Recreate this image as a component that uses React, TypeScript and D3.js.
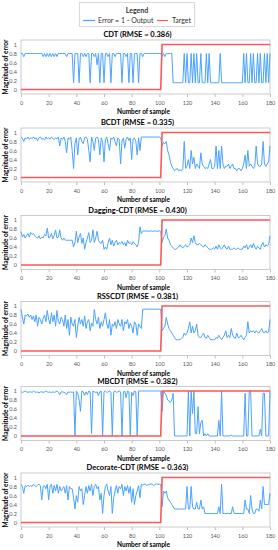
import React, {Component} from 'react';
import * as d3 from 'd3';

// panel titles, top to bottom
const titles = [
    "CDT (RMSE = 0.386)",
    "BCDT (RMSE = 0.335)",
    "Dagging-CDT (RMSE = 0.430)",
    "RSSCDT (RMSE = 0.381)",
    "MBCDT (RMSE = 0.382)",
    "Decorate-CDT (RMSE = 0.363)"
];

const xTicks = [0, 20, 40, 60, 80, 100, 120, 140, 160, 180];
const yTicks = [0, 0.2, 0.4, 0.6, 0.8, 1];

// target (same for every panel)
const target = [
    0,0,0,0,0,0,0,0,0,0, 0,0,0,0,0,0,0,0,0,0,
    0,0,0,0,0,0,0,0,0,0, 0,0,0,0,0,0,0,0,0,0,
    0,0,0,0,0,0,0,0,0,0, 0,0,0,0,0,0,0,0,0,0,
    0,0,0,0,0,0,0,0,0,0, 0,0,0,0,0,0,0,0,0,0,
    0,0,0,0,0,0,0,0,0,0, 0,0,0,0,0,0,0,0,0,0,
    0,0,1,1,1,1,1,1,1,1, 1,1,1,1,1,1,1,1,1,1,
    1,1,1,1,1,1,1,1,1,1, 1,1,1,1,1,1,1,1,1,1,
    1,1,1,1,1,1,1,1,1,1, 1,1,1,1,1,1,1,1,1,1,
    1,1,1,1,1,1,1,1,1,1, 1,1,1,1,1,1,1,1,1,1,
    1
];

// error = 1 - output, samples 0..180
const cdt = [
    0.8,0.8,0.73,0.8,0.8,0.8,0.8,0.8,0.8,0.8, 0.8,0.8,0.8,0.8,0.8,0.8,0.73,0.8,0.73,0.8,
    0.73,0.8,0.73,0.8,0.73,0.8,0.73,0.8,0.8,0.8, 0.8,0.8,0.8,0.73,0.8,0.8,0.8,0.8,0.15,0.8,
    0.8,0.8,0.15,0.8,0.8,0.73,0.8,0.73,0.8,0.8, 0.15,0.8,0.8,0.73,0.8,0.55,0.8,0.15,0.8,0.8,
    0.15,0.8,0.8,0.73,0.8,0.15,0.8,0.8,0.73,0.8, 0.8,0.8,0.8,0.15,0.8,0.8,0.73,0.8,0.15,0.8,
    0.8,0.15,0.8,0.8,0.8,0.15,0.8,0.8,0.73,0.8, 0.8,0.8,0.8,0.8,0.8,0.8,0.8,0.8,0.8,0.8,
    0.8,0.8,0.73,0.8,0.73,0.8,0.8,0.8,0.8,0.8, 0.15,0.15,0.15,0.15,0.15,0.15,0.15,0.15,0.8,0.15,
    0.8,0.15,0.15,0.8,0.15,0.8,0.15,0.8,0.15,0.15, 0.8,0.15,0.15,0.15,0.8,0.15,0.8,0.15,0.15,0.15,
    0.15,0.15,0.15,0.15,0.8,0.15,0.15,0.15,0.15,0.15, 0.15,0.15,0.15,0.15,0.15,0.15,0.15,0.15,0.15,0.15,
    0.15,0.8,0.15,0.8,0.15,0.15,0.8,0.15,0.8,0.15, 0.15,0.8,0.15,0.8,0.15,0.15,0.8,0.15,0.8,0.15,
    0.8
];

const bcdt = [
    0.9,0.87,0.8,0.88,0.86,0.9,0.85,0.88,0.87,0.9, 0.86,0.88,0.82,0.88,0.9,0.85,0.87,0.83,0.9,0.86,
    0.88,0.85,0.9,0.87,0.84,0.88,0.86,0.9,0.7,0.88, 0.85,0.9,0.8,0.55,0.88,0.85,0.9,0.6,0.2,0.75,
    0.88,0.5,0.85,0.9,0.8,0.75,0.88,0.9,0.85,0.6, 0.35,0.9,0.8,0.6,0.88,0.9,0.85,0.5,0.88,0.8,
    0.35,0.85,0.9,0.75,0.6,0.88,0.85,0.9,0.8,0.7, 0.88,0.85,0.3,0.8,0.88,0.65,0.85,0.9,0.82,0.88,
    0.4,0.85,0.88,0.8,0.5,0.88,0.6,0.9,0.9,0.9, 0.9,0.9,0.9,0.9,0.9,0.9,0.9,0.9,0.9,0.9,
    0.9,0.88,0.7,0.78,0.75,0.8,0.6,0.5,0.35,0.25, 0.2,0.15,0.18,0.2,0.15,0.17,0.15,0.2,0.8,0.2,
    0.25,0.4,0.2,0.6,0.3,0.45,0.2,0.3,0.25,0.2, 0.55,0.3,0.25,0.2,0.22,0.2,0.3,0.4,0.2,0.2,
    0.25,0.7,0.2,0.6,0.2,0.7,0.3,0.2,0.25,0.25, 0.3,0.2,0.25,0.3,0.2,0.2,0.15,0.2,0.2,0.15,
    0.2,0.3,0.5,0.2,0.6,0.25,0.3,0.25,0.2,0.25, 0.7,0.3,0.25,0.25,0.3,0.8,0.3,0.25,0.3,0.35,
    0.7
];

const dagging = [
    0.74,0.62,0.68,0.6,0.65,0.7,0.62,0.72,0.68,0.7, 0.65,0.62,0.6,0.65,0.58,0.62,0.6,0.68,0.65,0.82,
    0.6,0.62,0.7,0.58,0.65,0.78,0.6,0.62,0.78,0.6, 0.55,0.6,0.55,0.55,0.55,0.55,0.55,0.55,0.4,0.5,
    0.75,0.5,0.62,0.7,0.48,0.6,0.35,0.5,0.6,0.72, 0.5,0.55,0.78,0.5,0.6,0.75,0.55,0.5,0.48,0.55,
    0.35,0.4,0.35,0.5,0.6,0.45,0.55,0.42,0.5,0.55, 0.45,0.5,0.48,0.52,0.45,0.5,0.42,0.55,0.48,0.5,
    0.45,0.52,0.48,0.45,0.4,0.5,0.85,0.7,0.75,0.76, 0.75,0.76,0.75,0.75,0.76,0.75,0.75,0.76,0.75,0.75,
    0.76,0.75,0.5,0.62,0.65,0.8,0.6,0.55,0.45,0.42, 0.38,0.35,0.35,0.38,0.4,0.45,0.4,0.38,0.42,0.45,
    0.4,0.42,0.45,0.6,0.5,0.65,0.5,0.45,0.45,0.48, 0.45,0.42,0.4,0.45,0.42,0.38,0.35,0.35,0.35,0.38,
    0.35,0.42,0.35,0.45,0.38,0.35,0.4,0.45,0.38,0.35, 0.42,0.35,0.35,0.35,0.38,0.35,0.35,0.38,0.35,0.35,
    0.35,0.42,0.38,0.45,0.35,0.4,0.45,0.38,0.48,0.4, 0.35,0.42,0.38,0.35,0.45,0.5,0.4,0.45,0.42,0.45,
    0.65
];

const rsscdt = [
    0.92,0.75,0.6,0.8,0.78,0.82,0.75,0.8,0.7,0.78, 0.65,0.8,0.55,0.75,0.7,0.6,0.72,0.8,0.65,0.9,
    0.7,0.6,0.85,0.65,0.8,0.55,0.9,0.65,0.6,0.75, 0.7,0.55,0.8,0.5,0.7,0.35,0.75,0.6,0.55,0.7,
    0.3,0.55,0.75,0.6,0.7,0.55,0.78,0.5,0.65,0.7, 0.45,0.62,0.55,0.92,0.7,0.6,0.75,0.5,0.65,0.55,
    0.7,0.85,0.6,0.5,0.7,0.35,0.6,0.55,0.65,0.5, 0.7,0.6,0.55,0.7,0.45,0.65,0.6,0.7,0.5,0.62,
    0.55,0.4,0.65,0.6,0.35,0.6,0.55,0.5,0.93,0.93, 0.93,0.93,0.93,0.93,0.93,0.93,0.93,0.93,0.93,0.93,
    0.93,0.93,0.45,0.5,0.55,0.75,0.6,0.5,0.45,0.4, 0.35,0.3,0.25,0.25,0.25,0.25,0.28,0.3,0.4,0.35,
    0.4,0.5,0.65,0.4,0.55,0.4,0.45,0.6,0.35,0.3, 0.3,0.35,0.4,0.3,0.28,0.35,0.3,0.25,0.25,0.25,
    0.25,0.3,0.28,0.35,0.3,0.25,0.3,0.35,0.45,0.3, 0.35,0.3,0.5,0.35,0.3,0.28,0.4,0.3,0.3,0.35,
    0.3,0.25,0.3,0.35,0.65,0.4,0.45,0.42,0.45,0.4, 0.45,0.42,0.4,0.45,0.5,0.42,0.4,0.45,0.4,0.42,
    0.7
];

const mbcdt = [
    0.98,0.97,0.98,1,0.98,0.97,0.98,0.98,0.97,1, 0.98,0.97,0.98,0.96,0.98,0.98,0.97,0.98,1,0.98,
    0.97,0.98,0.96,0.98,0.97,0.98,1,0.97,0.92,0.98, 0.98,0.97,0.96,0.92,0.98,0.97,0.98,0.97,0.98,0,
    1,0.95,0.8,0.55,1,0.98,0.9,0.98,0.92,1, 0.98,0.05,1,0.98,0.97,0.98,0.9,0.98,1,0,
    0.98,1,0.97,0.98,1,0.98,0,0.98,1,0.97, 0.98,1,0.98,0,0.98,1,0.85,1,0.98,0,
    0.97,0.9,1,0.98,0,1,1,1,1,1, 1,1,1,1,1,1,1,1,1,1,
    1,1,0.55,1,0.95,0.9,0.8,0.78,0.75,0.8, 0.95,0,0,0,0,0,0,0,0,0,
    0,1,0,1,0.5,1,0.05,0.05,0.65,0.05, 0.3,0.35,0,0.05,0,0.05,0,0,0,0,
    0,0,0,0.35,0,1,0,0,0,0, 0,0,0.02,0,0,0,0,0,0,0,
    0,0,0.95,0,0,1,1,0,0,0, 0,0,0,0.15,0,0.95,0.95,0,0,0,
    1
];

const decorate = [
    0.85,0.8,0.65,0.82,0.8,0.83,0.8,0.82,0.8,0.85, 0.82,0.8,0.83,0.85,0.82,0.5,0.8,0.82,0.75,0.85,
    0.5,0.8,0.85,0.65,0.82,0.7,0.85,0.65,0.8,0.7, 0.75,0.8,0.65,0.82,0.5,0.8,0.75,0.75,0.55,0.3,
    0.6,0.45,0.8,0.7,0.75,0.4,0.6,0.8,0.65,0.82, 0.7,0.85,0.6,0.8,0.85,0.75,0.8,0.5,0.65,0.2,
    0.6,0.8,0.85,0.7,0.6,0.8,0.2,0.55,0.7,0.82, 0.65,0.8,0.75,0.85,0.6,0.8,0.7,0.82,0.65,0.8,
    0.45,0.75,0.4,0.6,0.7,0.82,0.55,0.85,0.83,0.85, 0.85,0.82,0.85,0.84,0.86,0.85,0.82,0.85,0.86,0.85,
    0.85,0.85,0.35,0.7,0.65,0.7,0.55,0.5,0.45,0.4, 0.35,0.3,0.3,0.3,0.3,0.3,0.3,0.3,0.3,0.3,
    0.8,0.3,0.3,0.8,0.35,0.3,0.3,0.45,0.3,0.3, 0.5,0.3,0.35,0.2,0.2,0.2,0.2,0.2,0.2,0.2,
    0.2,0.2,0.2,0.35,0.2,0.85,0.2,0.2,0.2,0.2, 0.2,0.2,0.2,0.35,0.2,0.2,0.2,0.2,0.2,0.2,
    0.2,0.2,0.5,0.3,0.3,0.2,0.6,0.3,0.2,0.2, 0.3,0.3,0.25,0.5,0.3,0.8,0.4,0.4,0.4,0.4,
    0.65
];

const errors = [cdt, bcdt, dagging, rsscdt, mbcdt, decorate];

const FONT = "Lato, 'Open Sans', sans-serif";
const BLUE = "#4aa3ff";
const RED = "#ff5656";

class App extends Component {
    node: SVGSVGElement | null = null;

    componentDidMount() {
        this.drawChart();
    }

    drawChart() {
        const w = 278;
        const h = 550;
        const left = 21;
        const right = 270;
        const ph = 54;
        const tops = [40, 128, 215.5, 301.5, 386.5, 473];

        const svg = d3.select(this.node)
            .attr("width", w)
            .attr("height", h)
            .style("font-family", FONT);
        svg.selectAll("*").remove();

        // legend
        const lg = svg.append("g");
        lg.append("rect")
            .attr("x", 79.5).attr("y", 2.5)
            .attr("width", 115).attr("height", 24)
            .attr("fill", "#fff").attr("stroke", "#d9d9d9");
        lg.append("text")
            .attr("x", 137).attr("y", 12.5)
            .attr("text-anchor", "middle")
            .attr("font-size", 7).attr("font-weight", "bold")
            .attr("fill", "#333")
            .text("Legend");
        lg.append("line")
            .attr("x1", 83).attr("x2", 95).attr("y1", 20.5).attr("y2", 20.5)
            .attr("stroke", BLUE).attr("stroke-width", 1.2);
        lg.append("text")
            .attr("x", 98).attr("y", 23)
            .attr("font-size", 7).attr("fill", "#333")
            .text("Error = 1 - Output");
        lg.append("line")
            .attr("x1", 157).attr("x2", 168).attr("y1", 20.5).attr("y2", 20.5)
            .attr("stroke", RED).attr("stroke-width", 1.2);
        lg.append("text")
            .attr("x", 172).attr("y", 23)
            .attr("font-size", 7).attr("fill", "#333")
            .text("Target");

        errors.forEach((err, k) => {
            const top = tops[k];
            const xScale = d3.scaleLinear().domain([0, 180]).range([left, right]);
            const yScale = d3.scaleLinear().domain([-0.1, 1.1]).range([top + ph, top]);
            const g = svg.append("g");

            g.append("text")
                .attr("x", (left + right) / 2 - 8)
                .attr("y", top - 3)
                .attr("text-anchor", "middle")
                .attr("font-size", 7.5).attr("font-weight", "bold")
                .attr("fill", "#000")
                .text(titles[k]);

            g.append("rect")
                .attr("x", left).attr("y", top)
                .attr("width", right - left).attr("height", ph)
                .attr("fill", "#fff").attr("stroke", "#bfbfbf").attr("stroke-width", 0.8);

            const yAxis = d3.axisLeft(yScale)
                .tickValues(yTicks)
                .tickSize(0)
                .tickPadding(4)
                .tickFormat(d3.format(""));
            g.append("g")
                .attr("transform", "translate(" + left + ",0)")
                .call(yAxis)
                .call(a => a.select(".domain").remove())
                .selectAll("text")
                .attr("font-size", 5.5).attr("fill", "#595959").attr("font-family", FONT);

            const xAxis = d3.axisBottom(xScale)
                .tickValues(xTicks)
                .tickSize(3)
                .tickPadding(4);
            g.append("g")
                .attr("transform", "translate(0," + (top + ph) + ")")
                .call(xAxis)
                .call(a => a.select(".domain").remove())
                .call(a => a.selectAll("line").attr("stroke", "#bfbfbf"))
                .selectAll("text")
                .attr("font-size", 5.5).attr("fill", "#595959").attr("font-family", FONT);

            g.append("text")
                .attr("x", (left + right) / 2 - 2)
                .attr("y", top + ph + 20)
                .attr("text-anchor", "middle")
                .attr("font-size", 6.5).attr("font-weight", "bold")
                .attr("fill", "#000")
                .text("Number of sample");

            g.append("text")
                .attr("transform", "rotate(-90)")
                .attr("x", -(top + ph / 2))
                .attr("y", 8)
                .attr("text-anchor", "middle")
                .attr("font-size", 6.5).attr("font-weight", "bold")
                .attr("fill", "#000")
                .text("Magnitude of error");

            const line = d3.line<number>()
                .x((d, i) => xScale(i))
                .y(d => yScale(d));

            g.append("path")
                .datum(err)
                .attr("d", line)
                .attr("fill", "none")
                .attr("stroke", BLUE)
                .attr("stroke-width", 1);

            g.append("path")
                .datum(target)
                .attr("d", line)
                .attr("fill", "none")
                .attr("stroke", RED)
                .attr("stroke-width", 1.6);
        });
    }

    render() {
        return (
            <div style={{position: "absolute", left: 0, top: 0}}>
                <svg ref={n => { this.node = n; }}></svg>
            </div>
        );
    }
}

export default App;
